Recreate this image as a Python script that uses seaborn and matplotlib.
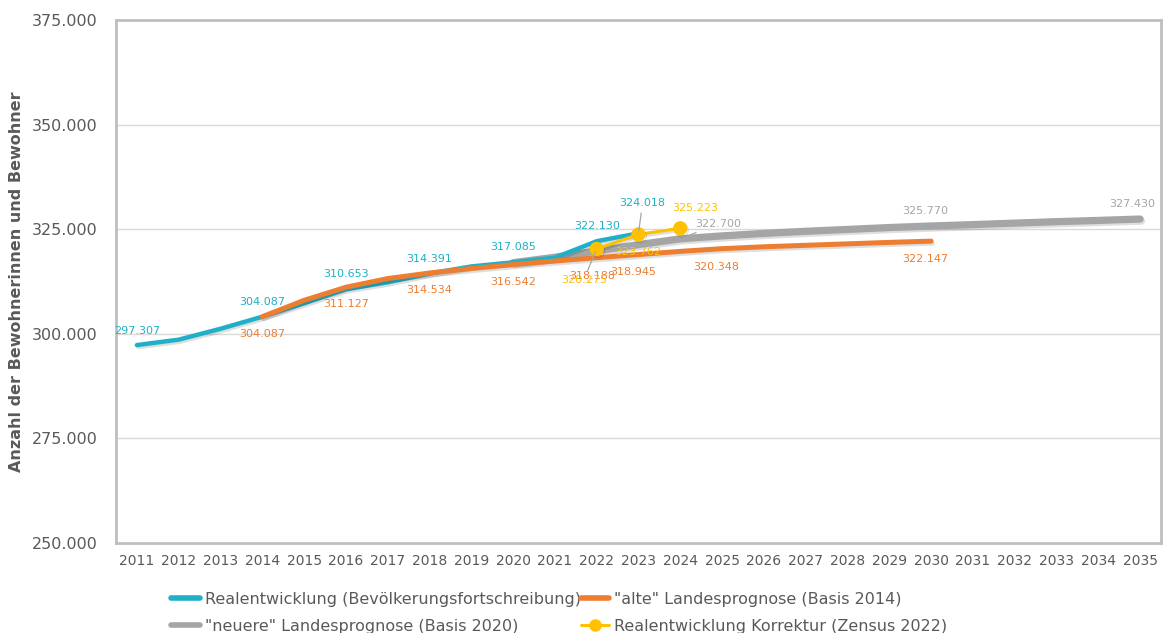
import matplotlib
matplotlib.use("Agg")
import matplotlib.pyplot as plt
import matplotlib.patheffects as pe
from matplotlib.lines import Line2D
import pandas as pd
import seaborn as sns

# --- data -----------------------------------------------------------------
years_real = list(range(2011, 2024))
real = [297307, 298600, 301200, 304087, 307300, 310653, 312300, 314391,
        316100, 317085, 318200, 322130, 324018]

years_old = list(range(2014, 2031))
old_forecast = [304087, 308000, 311127, 313200, 314534, 315600, 316542,
                317400, 318188, 318945, 319700, 320348, 320800, 321150,
                321500, 321850, 322147]

years_new = list(range(2020, 2036))
new_forecast = [317000, 318300, 319800, 321300, 322700, 323400, 324000,
                324500, 324950, 325400, 325770, 326100, 326450, 326800,
                327100, 327430]

years_corr = [2022, 2023, 2024]
corrected = [320275, 323762, 325223]

series_names = [
    "Realentwicklung (Bevölkerungsfortschreibung)",
    "\"alte\" Landesprognose (Basis 2014)",
    "\"neuere\" Landesprognose (Basis 2020)",
    "Realentwicklung Korrektur (Zensus 2022)",
]
y_label = "Anzahl der Bewohnerinnen und Bewohner"
y_ticks = [250000, 275000, 300000, 325000, 350000, 375000]
x_ticks = list(range(2011, 2036))

# years that carry a value label, per series
labels_real = [2011, 2014, 2016, 2018, 2020, 2022, 2023]
labels_old = [2014, 2016, 2018, 2020, 2022, 2023, 2025, 2030]
labels_new = [2024, 2030, 2035]
labels_corr = [2022, 2023, 2024]

# --- style ------------------------------------------------------------------
C_BLUE = "#1FB0C8"
C_ORANGE = "#ED7D31"
C_GRAY = "#A5A5A5"
C_GOLD = "#FFC000"
C_TEXT = "#595959"

sns.set_theme(style="white")
plt.rcParams["font.family"] = ["DejaVu Sans"]

fig = plt.figure(figsize=(11.65, 6.33), dpi=100)
ax = fig.add_axes([116 / 1165, 1 - 543 / 633, 1045 / 1165, 523 / 633])

shadow = [pe.SimpleLineShadow(offset=(1.0, -1.5), shadow_color="black", alpha=0.13),
          pe.Normal()]

df_new = pd.DataFrame({"Jahr": years_new, "Wert": new_forecast})
df_old = pd.DataFrame({"Jahr": years_old, "Wert": old_forecast})
df_real = pd.DataFrame({"Jahr": years_real, "Wert": real})
df_corr = pd.DataFrame({"Jahr": years_corr, "Wert": corrected})

sns.lineplot(data=df_new, x="Jahr", y="Wert", ax=ax, color=C_GRAY, lw=5.2,
             solid_capstyle="round", solid_joinstyle="round",
             path_effects=shadow, zorder=3)
sns.lineplot(data=df_real, x="Jahr", y="Wert", ax=ax, color=C_BLUE, lw=3.2,
             solid_capstyle="round", solid_joinstyle="round",
             path_effects=shadow, zorder=4)
sns.lineplot(data=df_old, x="Jahr", y="Wert", ax=ax, color=C_ORANGE, lw=3.6,
             solid_capstyle="round", solid_joinstyle="round",
             path_effects=shadow, zorder=5)
sns.lineplot(data=df_corr, x="Jahr", y="Wert", ax=ax, color=C_GOLD, lw=2.2,
             marker="o", markersize=9.5, markeredgecolor=C_GOLD,
             path_effects=shadow, zorder=6)

ax.set_xlim(2010.5, 2035.5)
ax.set_ylim(250000, 375000)
ax.set_xticks(x_ticks)
ax.set_xticklabels([str(y) for y in x_ticks], fontsize=10, color=C_TEXT)
ax.set_yticks(y_ticks)
ax.set_yticklabels([f"{v:,}".replace(",", ".") for v in y_ticks],
                   fontsize=11.5, color=C_TEXT)
ax.tick_params(axis="y", length=0, pad=13)
ax.tick_params(axis="x", length=0, pad=8)
ax.set_xlabel("")
ax.set_ylabel(y_label, fontsize=11.5, fontweight="bold", color=C_TEXT, labelpad=6)
ax.grid(axis="y", color="#D9D9D9", lw=1)
ax.grid(axis="x", visible=False)
for s in ax.spines.values():
    s.set_color("#BFBFBF")
    s.set_linewidth(2)


def fmt(v):
    return f"{v:,}".replace(",", ".")


def put(years, values, which, color, default, special=None, lead=None):
    special = special or {}
    lead = lead or {}
    lookup = dict(zip(years, values))
    for yr in which:
        dx, dy = special.get(yr, default)
        kw = {}
        if yr in lead:
            kw["arrowprops"] = dict(arrowstyle="-", color="#A6A6A6", lw=0.9,
                                    shrinkA=lead[yr], shrinkB=2)
        ax.annotate(fmt(lookup[yr]), (yr, lookup[yr]), xytext=(dx, dy),
                    textcoords="offset pixels", ha="center", va="center",
                    fontsize=8, color=color, zorder=8, annotation_clip=False, **kw)


put(years_real, real, labels_real, C_BLUE, (0, 15),
    special={2011: (0, 14), 2023: (4, 30)}, lead={2023: 1})
put(years_old, old_forecast, labels_old, C_ORANGE, (0, -17),
    special={2022: (-5, -18), 2023: (-5, -17), 2025: (-6, -18), 2030: (-6, -18)})
put(years_new, new_forecast, labels_new, C_GRAY, (0, 15),
    special={2024: (38, 15), 2030: (-6, 15), 2035: (-8, 15)}, lead={2024: 1})
put(years_corr, corrected, labels_corr, C_GOLD, (0, -18),
    special={2022: (-13, -31), 2023: (0, -18), 2024: (15, 20)}, lead={2022: 1})

handles = [
    Line2D([], [], color=C_BLUE, lw=4, solid_capstyle="round"),
    Line2D([], [], color=C_GRAY, lw=4, solid_capstyle="round"),
    Line2D([], [], color=C_ORANGE, lw=4, solid_capstyle="round"),
    Line2D([], [], color=C_GOLD, lw=2.2, marker="o", markersize=8),
]
labels = [series_names[0], series_names[2], series_names[1], series_names[3]]
fig.legend(handles, labels, ncol=2, loc="upper left",
           bbox_to_anchor=(163 / 1165, 1 - 584 / 633), frameon=False,
           fontsize=11.5, handlelength=1.8, handletextpad=0.3,
           columnspacing=0.0, labelspacing=0.75, borderpad=0, labelcolor=C_TEXT)

fig.savefig("out.png", dpi=100)
